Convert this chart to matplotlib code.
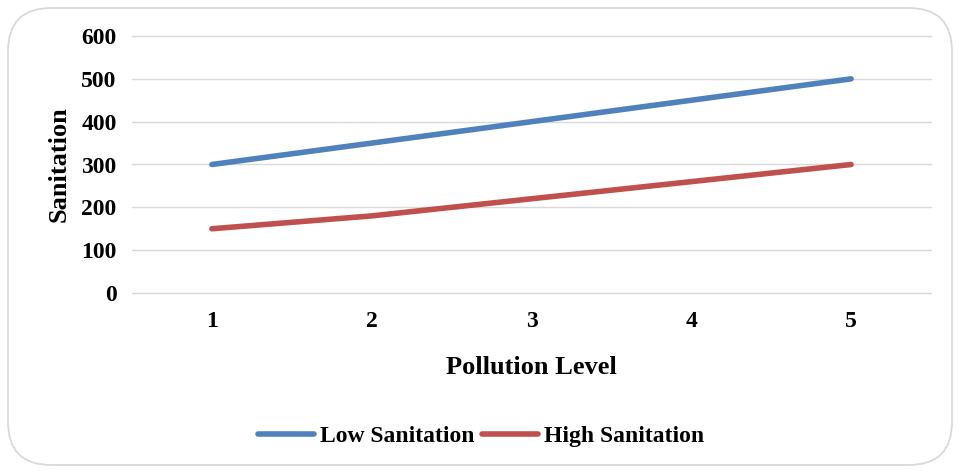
import matplotlib
matplotlib.use("Agg")
import matplotlib.pyplot as plt
from matplotlib.patches import FancyBboxPatch

pollution_levels = [1, 2, 3, 4, 5]
low_sanitation = [300, 350, 400, 450, 500]
high_sanitation = [150, 180, 220, 260, 300]
y_ticks = [0, 100, 200, 300, 400, 500, 600]

plt.rcParams["font.family"] = ["Liberation Serif", "DejaVu Serif"]
plt.rcParams["font.weight"] = "bold"

fig = plt.figure(figsize=(9.59, 4.73), dpi=100)
fig.patch.set_facecolor("white")

# rounded chart border
border = FancyBboxPatch((8 / 959, 8 / 473), 944 / 959, 457 / 473,
                        boxstyle="round,pad=0,rounding_size=0.045",
                        transform=fig.transFigure, facecolor="white",
                        edgecolor="#d9d9d9", linewidth=1.3, zorder=-5,
                        mutation_aspect=959 / 473)
fig.patches.append(border)

ax = fig.add_axes([132 / 959, 1 - 293 / 473, 799 / 959, 257 / 473])
ax.set_facecolor("none")
ax.set_zorder(2)

ax.plot(pollution_levels, low_sanitation, color="#4F81BD", linewidth=4.0,
        solid_capstyle="round", label="Low Sanitation", zorder=3)
ax.plot(pollution_levels, high_sanitation, color="#C0504D", linewidth=4.0,
        solid_capstyle="round", label="High Sanitation", zorder=3)

ax.set_xlim(0.5, 5.5)
ax.set_ylim(0, 600)
ax.set_yticks(y_ticks)
ax.set_xticks(pollution_levels)
ax.yaxis.grid(True, color="#d9d9d9", linewidth=1.0)
for gl in ax.get_ygridlines():
    gl.set_clip_on(False)
ax.set_axisbelow(True)
for s in ax.spines.values():
    s.set_visible(False)
ax.tick_params(axis="both", length=0, labelsize=17)
ax.tick_params(axis="y", pad=11)
ax.tick_params(axis="x", pad=13)
for lbl in ax.get_xticklabels() + ax.get_yticklabels():
    lbl.set_fontweight("bold")

ax.set_xlabel("Pollution Level", fontsize=19, fontweight="bold", labelpad=17)
ax.set_ylabel("Sanitation", fontsize=19, fontweight="bold", labelpad=8)

leg = fig.legend(loc="center", bbox_to_anchor=(481 / 959, 1 - 436 / 473),
                 ncol=2, frameon=False, fontsize=17, handlelength=2.4,
                 handletextpad=0.25, columnspacing=0.3)
for t in leg.get_texts():
    t.set_fontweight("bold")

fig.savefig("out.png", dpi=100, facecolor="white")
